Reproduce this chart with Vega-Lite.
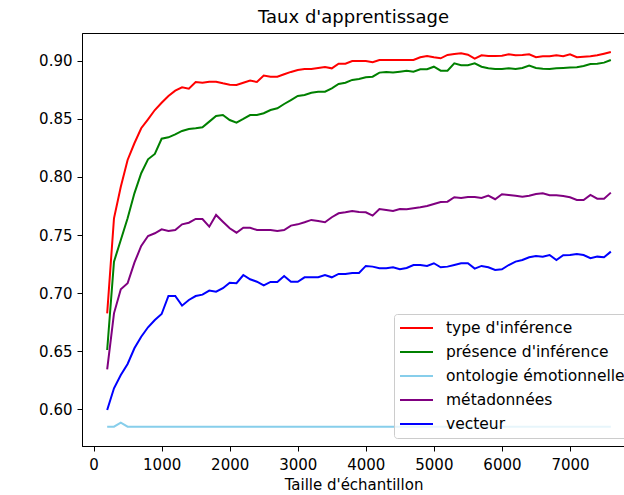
{
  "$schema": "https://vega.github.io/schema/vega-lite/v6.json",
  "autosize": {"type": "none"},
  "padding": {"left": 82, "top": 33, "right": 0, "bottom": 49},
  "width": 543,
  "height": 413,
  "background": "white",
  "title": {"text": "Taux d'apprentissage", "font": "DejaVu Sans", "fontSize": 18, "fontWeight": "normal", "color": "black", "offset": 6},
  "config": {
    "view": {"stroke": "black", "strokeWidth": 1},
    "axis": {"domainColor": "black", "tickColor": "black", "labelColor": "black", "titleColor": "black", "labelFont": "DejaVu Sans", "titleFont": "DejaVu Sans", "labelFontSize": 15, "titleFontSize": 15, "titleFontWeight": "normal", "grid": false, "tickSize": 5, "labelPadding": 5}
  },
  "data": {"values": [
{"n":200,"s":"type d'inférence","v":0.6826},{"n":300,"s":"type d'inférence","v":0.7644},{"n":400,"s":"type d'inférence","v":0.7916},{"n":500,"s":"type d'inférence","v":0.8146},{"n":600,"s":"type d'inférence","v":0.8290},{"n":700,"s":"type d'inférence","v":0.8419},{"n":800,"s":"type d'inférence","v":0.8496},{"n":900,"s":"type d'inférence","v":0.8576},{"n":1000,"s":"type d'inférence","v":0.8639},{"n":1100,"s":"type d'inférence","v":0.8697},{"n":1200,"s":"type d'inférence","v":0.8743},{"n":1300,"s":"type d'inférence","v":0.8772},{"n":1400,"s":"type d'inférence","v":0.8760},{"n":1500,"s":"type d'inférence","v":0.8817},{"n":1600,"s":"type d'inférence","v":0.8811},{"n":1700,"s":"type d'inférence","v":0.8820},{"n":1800,"s":"type d'inférence","v":0.8820},{"n":1900,"s":"type d'inférence","v":0.8806},{"n":2000,"s":"type d'inférence","v":0.8794},{"n":2100,"s":"type d'inférence","v":0.8792},{"n":2200,"s":"type d'inférence","v":0.8811},{"n":2300,"s":"type d'inférence","v":0.8829},{"n":2400,"s":"type d'inférence","v":0.8817},{"n":2500,"s":"type d'inférence","v":0.8872},{"n":2600,"s":"type d'inférence","v":0.8863},{"n":2700,"s":"type d'inférence","v":0.8863},{"n":2800,"s":"type d'inférence","v":0.8884},{"n":2900,"s":"type d'inférence","v":0.8904},{"n":3000,"s":"type d'inférence","v":0.8921},{"n":3100,"s":"type d'inférence","v":0.8929},{"n":3200,"s":"type d'inférence","v":0.8929},{"n":3300,"s":"type d'inférence","v":0.8938},{"n":3400,"s":"type d'inférence","v":0.8947},{"n":3500,"s":"type d'inférence","v":0.8935},{"n":3600,"s":"type d'inférence","v":0.8975},{"n":3700,"s":"type d'inférence","v":0.8975},{"n":3800,"s":"type d'inférence","v":0.8998},{"n":3900,"s":"type d'inférence","v":0.8998},{"n":4000,"s":"type d'inférence","v":0.8998},{"n":4100,"s":"type d'inférence","v":0.8987},{"n":4200,"s":"type d'inférence","v":0.9007},{"n":4300,"s":"type d'inférence","v":0.9007},{"n":4400,"s":"type d'inférence","v":0.9007},{"n":4500,"s":"type d'inférence","v":0.9007},{"n":4600,"s":"type d'inférence","v":0.9007},{"n":4700,"s":"type d'inférence","v":0.9007},{"n":4800,"s":"type d'inférence","v":0.9030},{"n":4900,"s":"type d'inférence","v":0.9041},{"n":5000,"s":"type d'inférence","v":0.9030},{"n":5100,"s":"type d'inférence","v":0.9021},{"n":5200,"s":"type d'inférence","v":0.9050},{"n":5300,"s":"type d'inférence","v":0.9058},{"n":5400,"s":"type d'inférence","v":0.9064},{"n":5500,"s":"type d'inférence","v":0.9052},{"n":5600,"s":"type d'inférence","v":0.9018},{"n":5700,"s":"type d'inférence","v":0.9047},{"n":5800,"s":"type d'inférence","v":0.9041},{"n":5900,"s":"type d'inférence","v":0.9041},{"n":6000,"s":"type d'inférence","v":0.9044},{"n":6100,"s":"type d'inférence","v":0.9056},{"n":6200,"s":"type d'inférence","v":0.9047},{"n":6300,"s":"type d'inférence","v":0.9050},{"n":6400,"s":"type d'inférence","v":0.9056},{"n":6500,"s":"type d'inférence","v":0.9030},{"n":6600,"s":"type d'inférence","v":0.9039},{"n":6700,"s":"type d'inférence","v":0.9039},{"n":6800,"s":"type d'inférence","v":0.9047},{"n":6900,"s":"type d'inférence","v":0.9039},{"n":7000,"s":"type d'inférence","v":0.9056},{"n":7100,"s":"type d'inférence","v":0.9030},{"n":7200,"s":"type d'inférence","v":0.9035},{"n":7300,"s":"type d'inférence","v":0.9039},{"n":7400,"s":"type d'inférence","v":0.9047},{"n":7500,"s":"type d'inférence","v":0.9061},{"n":7600,"s":"type d'inférence","v":0.9076},
{"n":200,"s":"présence d'inférence","v":0.6510},{"n":300,"s":"présence d'inférence","v":0.7271},{"n":400,"s":"présence d'inférence","v":0.7457},{"n":500,"s":"présence d'inférence","v":0.7644},{"n":600,"s":"présence d'inférence","v":0.7859},{"n":700,"s":"présence d'inférence","v":0.8032},{"n":800,"s":"présence d'inférence","v":0.8152},{"n":900,"s":"présence d'inférence","v":0.8198},{"n":1000,"s":"présence d'inférence","v":0.8329},{"n":1100,"s":"présence d'inférence","v":0.8341},{"n":1200,"s":"présence d'inférence","v":0.8367},{"n":1300,"s":"présence d'inférence","v":0.8396},{"n":1400,"s":"présence d'inférence","v":0.8413},{"n":1500,"s":"présence d'inférence","v":0.8419},{"n":1600,"s":"présence d'inférence","v":0.8427},{"n":1700,"s":"présence d'inférence","v":0.8476},{"n":1800,"s":"présence d'inférence","v":0.8525},{"n":1900,"s":"présence d'inférence","v":0.8533},{"n":2000,"s":"présence d'inférence","v":0.8490},{"n":2100,"s":"présence d'inférence","v":0.8467},{"n":2200,"s":"présence d'inférence","v":0.8499},{"n":2300,"s":"présence d'inférence","v":0.8533},{"n":2400,"s":"présence d'inférence","v":0.8533},{"n":2500,"s":"présence d'inférence","v":0.8548},{"n":2600,"s":"présence d'inférence","v":0.8576},{"n":2700,"s":"présence d'inférence","v":0.8591},{"n":2800,"s":"présence d'inférence","v":0.8628},{"n":2900,"s":"présence d'inférence","v":0.8662},{"n":3000,"s":"présence d'inférence","v":0.8697},{"n":3100,"s":"présence d'inférence","v":0.8705},{"n":3200,"s":"présence d'inférence","v":0.8725},{"n":3300,"s":"présence d'inférence","v":0.8734},{"n":3400,"s":"présence d'inférence","v":0.8734},{"n":3500,"s":"présence d'inférence","v":0.8763},{"n":3600,"s":"présence d'inférence","v":0.8800},{"n":3700,"s":"présence d'inférence","v":0.8811},{"n":3800,"s":"présence d'inférence","v":0.8835},{"n":3900,"s":"présence d'inférence","v":0.8843},{"n":4000,"s":"présence d'inférence","v":0.8858},{"n":4100,"s":"présence d'inférence","v":0.8863},{"n":4200,"s":"présence d'inférence","v":0.8898},{"n":4300,"s":"présence d'inférence","v":0.8904},{"n":4400,"s":"présence d'inférence","v":0.8898},{"n":4500,"s":"présence d'inférence","v":0.8906},{"n":4600,"s":"présence d'inférence","v":0.8915},{"n":4700,"s":"présence d'inférence","v":0.8906},{"n":4800,"s":"présence d'inférence","v":0.8927},{"n":4900,"s":"présence d'inférence","v":0.8927},{"n":5000,"s":"présence d'inférence","v":0.8949},{"n":5100,"s":"présence d'inférence","v":0.8915},{"n":5200,"s":"présence d'inférence","v":0.8915},{"n":5300,"s":"présence d'inférence","v":0.8978},{"n":5400,"s":"présence d'inférence","v":0.8961},{"n":5500,"s":"présence d'inférence","v":0.8961},{"n":5600,"s":"présence d'inférence","v":0.8978},{"n":5700,"s":"présence d'inférence","v":0.8949},{"n":5800,"s":"présence d'inférence","v":0.8935},{"n":5900,"s":"présence d'inférence","v":0.8929},{"n":6000,"s":"présence d'inférence","v":0.8929},{"n":6100,"s":"présence d'inférence","v":0.8935},{"n":6200,"s":"présence d'inférence","v":0.8929},{"n":6300,"s":"présence d'inférence","v":0.8938},{"n":6400,"s":"présence d'inférence","v":0.8958},{"n":6500,"s":"présence d'inférence","v":0.8938},{"n":6600,"s":"présence d'inférence","v":0.8932},{"n":6700,"s":"présence d'inférence","v":0.8929},{"n":6800,"s":"présence d'inférence","v":0.8935},{"n":6900,"s":"présence d'inférence","v":0.8938},{"n":7000,"s":"présence d'inférence","v":0.8941},{"n":7100,"s":"présence d'inférence","v":0.8944},{"n":7200,"s":"présence d'inférence","v":0.8955},{"n":7300,"s":"présence d'inférence","v":0.8972},{"n":7400,"s":"présence d'inférence","v":0.8975},{"n":7500,"s":"présence d'inférence","v":0.8984},{"n":7600,"s":"présence d'inférence","v":0.9007},
{"n":200,"s":"ontologie émotionnelle","v":0.585},{"n":300,"s":"ontologie émotionnelle","v":0.585},{"n":400,"s":"ontologie émotionnelle","v":0.5885},{"n":500,"s":"ontologie émotionnelle","v":0.585},{"n":600,"s":"ontologie émotionnelle","v":0.585},{"n":700,"s":"ontologie émotionnelle","v":0.585},{"n":800,"s":"ontologie émotionnelle","v":0.585},{"n":900,"s":"ontologie émotionnelle","v":0.585},{"n":1000,"s":"ontologie émotionnelle","v":0.585},{"n":1100,"s":"ontologie émotionnelle","v":0.585},{"n":1200,"s":"ontologie émotionnelle","v":0.585},{"n":1300,"s":"ontologie émotionnelle","v":0.585},{"n":1400,"s":"ontologie émotionnelle","v":0.585},{"n":1500,"s":"ontologie émotionnelle","v":0.585},{"n":1600,"s":"ontologie émotionnelle","v":0.585},{"n":1700,"s":"ontologie émotionnelle","v":0.585},{"n":1800,"s":"ontologie émotionnelle","v":0.585},{"n":1900,"s":"ontologie émotionnelle","v":0.585},{"n":2000,"s":"ontologie émotionnelle","v":0.585},{"n":2100,"s":"ontologie émotionnelle","v":0.585},{"n":2200,"s":"ontologie émotionnelle","v":0.585},{"n":2300,"s":"ontologie émotionnelle","v":0.585},{"n":2400,"s":"ontologie émotionnelle","v":0.585},{"n":2500,"s":"ontologie émotionnelle","v":0.585},{"n":2600,"s":"ontologie émotionnelle","v":0.585},{"n":2700,"s":"ontologie émotionnelle","v":0.585},{"n":2800,"s":"ontologie émotionnelle","v":0.585},{"n":2900,"s":"ontologie émotionnelle","v":0.585},{"n":3000,"s":"ontologie émotionnelle","v":0.585},{"n":3100,"s":"ontologie émotionnelle","v":0.585},{"n":3200,"s":"ontologie émotionnelle","v":0.585},{"n":3300,"s":"ontologie émotionnelle","v":0.585},{"n":3400,"s":"ontologie émotionnelle","v":0.585},{"n":3500,"s":"ontologie émotionnelle","v":0.585},{"n":3600,"s":"ontologie émotionnelle","v":0.585},{"n":3700,"s":"ontologie émotionnelle","v":0.585},{"n":3800,"s":"ontologie émotionnelle","v":0.585},{"n":3900,"s":"ontologie émotionnelle","v":0.585},{"n":4000,"s":"ontologie émotionnelle","v":0.585},{"n":4100,"s":"ontologie émotionnelle","v":0.585},{"n":4200,"s":"ontologie émotionnelle","v":0.585},{"n":4300,"s":"ontologie émotionnelle","v":0.585},{"n":4400,"s":"ontologie émotionnelle","v":0.585},{"n":4500,"s":"ontologie émotionnelle","v":0.585},{"n":4600,"s":"ontologie émotionnelle","v":0.585},{"n":4700,"s":"ontologie émotionnelle","v":0.585},{"n":4800,"s":"ontologie émotionnelle","v":0.585},{"n":4900,"s":"ontologie émotionnelle","v":0.585},{"n":5000,"s":"ontologie émotionnelle","v":0.585},{"n":5100,"s":"ontologie émotionnelle","v":0.585},{"n":5200,"s":"ontologie émotionnelle","v":0.585},{"n":5300,"s":"ontologie émotionnelle","v":0.585},{"n":5400,"s":"ontologie émotionnelle","v":0.585},{"n":5500,"s":"ontologie émotionnelle","v":0.585},{"n":5600,"s":"ontologie émotionnelle","v":0.585},{"n":5700,"s":"ontologie émotionnelle","v":0.585},{"n":5800,"s":"ontologie émotionnelle","v":0.585},{"n":5900,"s":"ontologie émotionnelle","v":0.585},{"n":6000,"s":"ontologie émotionnelle","v":0.585},{"n":6100,"s":"ontologie émotionnelle","v":0.585},{"n":6200,"s":"ontologie émotionnelle","v":0.585},{"n":6300,"s":"ontologie émotionnelle","v":0.585},{"n":6400,"s":"ontologie émotionnelle","v":0.585},{"n":6500,"s":"ontologie émotionnelle","v":0.585},{"n":6600,"s":"ontologie émotionnelle","v":0.585},{"n":6700,"s":"ontologie émotionnelle","v":0.585},{"n":6800,"s":"ontologie émotionnelle","v":0.585},{"n":6900,"s":"ontologie émotionnelle","v":0.585},{"n":7000,"s":"ontologie émotionnelle","v":0.585},{"n":7100,"s":"ontologie émotionnelle","v":0.585},{"n":7200,"s":"ontologie émotionnelle","v":0.585},{"n":7300,"s":"ontologie émotionnelle","v":0.585},{"n":7400,"s":"ontologie émotionnelle","v":0.585},{"n":7500,"s":"ontologie émotionnelle","v":0.585},{"n":7600,"s":"ontologie émotionnelle","v":0.585},
{"n":200,"s":"métadonnées","v":0.6344},{"n":300,"s":"métadonnées","v":0.6826},{"n":400,"s":"métadonnées","v":0.7033},{"n":500,"s":"métadonnées","v":0.7085},{"n":600,"s":"métadonnées","v":0.7262},{"n":700,"s":"métadonnées","v":0.7406},{"n":800,"s":"métadonnées","v":0.7492},{"n":900,"s":"métadonnées","v":0.7515},{"n":1000,"s":"métadonnées","v":0.7549},{"n":1100,"s":"métadonnées","v":0.7535},{"n":1200,"s":"métadonnées","v":0.7543},{"n":1300,"s":"métadonnées","v":0.7592},{"n":1400,"s":"métadonnées","v":0.7606},{"n":1500,"s":"métadonnées","v":0.7638},{"n":1600,"s":"métadonnées","v":0.7638},{"n":1700,"s":"métadonnées","v":0.7572},{"n":1800,"s":"métadonnées","v":0.7673},{"n":1900,"s":"métadonnées","v":0.7615},{"n":2000,"s":"métadonnées","v":0.7558},{"n":2100,"s":"métadonnées","v":0.7520},{"n":2200,"s":"métadonnées","v":0.7563},{"n":2300,"s":"métadonnées","v":0.7563},{"n":2400,"s":"métadonnées","v":0.7543},{"n":2500,"s":"métadonnées","v":0.7543},{"n":2600,"s":"métadonnées","v":0.7543},{"n":2700,"s":"métadonnées","v":0.7535},{"n":2800,"s":"métadonnées","v":0.7543},{"n":2900,"s":"métadonnées","v":0.7581},{"n":3000,"s":"métadonnées","v":0.7592},{"n":3100,"s":"métadonnées","v":0.7610},{"n":3200,"s":"métadonnées","v":0.7630},{"n":3300,"s":"métadonnées","v":0.7621},{"n":3400,"s":"métadonnées","v":0.7610},{"n":3500,"s":"métadonnées","v":0.7653},{"n":3600,"s":"métadonnées","v":0.7687},{"n":3700,"s":"métadonnées","v":0.7696},{"n":3800,"s":"métadonnées","v":0.7707},{"n":3900,"s":"métadonnées","v":0.7698},{"n":4000,"s":"métadonnées","v":0.7696},{"n":4100,"s":"métadonnées","v":0.7667},{"n":4200,"s":"métadonnées","v":0.7724},{"n":4300,"s":"métadonnées","v":0.7716},{"n":4400,"s":"métadonnées","v":0.7707},{"n":4500,"s":"métadonnées","v":0.7724},{"n":4600,"s":"métadonnées","v":0.7721},{"n":4700,"s":"métadonnées","v":0.7730},{"n":4800,"s":"métadonnées","v":0.7739},{"n":4900,"s":"métadonnées","v":0.7750},{"n":5000,"s":"métadonnées","v":0.7767},{"n":5100,"s":"métadonnées","v":0.7784},{"n":5200,"s":"métadonnées","v":0.7787},{"n":5300,"s":"métadonnées","v":0.7825},{"n":5400,"s":"métadonnées","v":0.7819},{"n":5500,"s":"métadonnées","v":0.7828},{"n":5600,"s":"métadonnées","v":0.7828},{"n":5700,"s":"métadonnées","v":0.7819},{"n":5800,"s":"métadonnées","v":0.7839},{"n":5900,"s":"métadonnées","v":0.7808},{"n":6000,"s":"métadonnées","v":0.7851},{"n":6100,"s":"métadonnées","v":0.7845},{"n":6200,"s":"métadonnées","v":0.7839},{"n":6300,"s":"métadonnées","v":0.7830},{"n":6400,"s":"métadonnées","v":0.7839},{"n":6500,"s":"métadonnées","v":0.7853},{"n":6600,"s":"métadonnées","v":0.7859},{"n":6700,"s":"métadonnées","v":0.7842},{"n":6800,"s":"métadonnées","v":0.7842},{"n":6900,"s":"métadonnées","v":0.7836},{"n":7000,"s":"métadonnées","v":0.7825},{"n":7100,"s":"métadonnées","v":0.7802},{"n":7200,"s":"métadonnées","v":0.7802},{"n":7300,"s":"métadonnées","v":0.7845},{"n":7400,"s":"métadonnées","v":0.7813},{"n":7500,"s":"métadonnées","v":0.7813},{"n":7600,"s":"métadonnées","v":0.7865},
{"n":200,"s":"vecteur","v":0.5994},{"n":300,"s":"vecteur","v":0.6181},{"n":400,"s":"vecteur","v":0.6295},{"n":500,"s":"vecteur","v":0.6390},{"n":600,"s":"vecteur","v":0.6525},{"n":700,"s":"vecteur","v":0.6625},{"n":800,"s":"vecteur","v":0.6706},{"n":900,"s":"vecteur","v":0.6769},{"n":1000,"s":"vecteur","v":0.6820},{"n":1100,"s":"vecteur","v":0.6975},{"n":1200,"s":"vecteur","v":0.6975},{"n":1300,"s":"vecteur","v":0.6892},{"n":1400,"s":"vecteur","v":0.6941},{"n":1500,"s":"vecteur","v":0.6975},{"n":1600,"s":"vecteur","v":0.6987},{"n":1700,"s":"vecteur","v":0.7022},{"n":1800,"s":"vecteur","v":0.7012},{"n":1900,"s":"vecteur","v":0.7042},{"n":2000,"s":"vecteur","v":0.7090},{"n":2100,"s":"vecteur","v":0.7085},{"n":2200,"s":"vecteur","v":0.7156},{"n":2300,"s":"vecteur","v":0.7119},{"n":2400,"s":"vecteur","v":0.7098},{"n":2500,"s":"vecteur","v":0.7067},{"n":2600,"s":"vecteur","v":0.7096},{"n":2700,"s":"vecteur","v":0.7096},{"n":2800,"s":"vecteur","v":0.7147},{"n":2900,"s":"vecteur","v":0.7098},{"n":3000,"s":"vecteur","v":0.7098},{"n":3100,"s":"vecteur","v":0.7136},{"n":3200,"s":"vecteur","v":0.7136},{"n":3300,"s":"vecteur","v":0.7136},{"n":3400,"s":"vecteur","v":0.7156},{"n":3500,"s":"vecteur","v":0.7136},{"n":3600,"s":"vecteur","v":0.7165},{"n":3700,"s":"vecteur","v":0.7165},{"n":3800,"s":"vecteur","v":0.7173},{"n":3900,"s":"vecteur","v":0.7173},{"n":4000,"s":"vecteur","v":0.7234},{"n":4100,"s":"vecteur","v":0.7228},{"n":4200,"s":"vecteur","v":0.7214},{"n":4300,"s":"vecteur","v":0.7214},{"n":4400,"s":"vecteur","v":0.7222},{"n":4500,"s":"vecteur","v":0.7205},{"n":4600,"s":"vecteur","v":0.7216},{"n":4700,"s":"vecteur","v":0.7242},{"n":4800,"s":"vecteur","v":0.7242},{"n":4900,"s":"vecteur","v":0.7234},{"n":5000,"s":"vecteur","v":0.7257},{"n":5100,"s":"vecteur","v":0.7222},{"n":5200,"s":"vecteur","v":0.7228},{"n":5300,"s":"vecteur","v":0.7242},{"n":5400,"s":"vecteur","v":0.7257},{"n":5500,"s":"vecteur","v":0.7257},{"n":5600,"s":"vecteur","v":0.7211},{"n":5700,"s":"vecteur","v":0.7234},{"n":5800,"s":"vecteur","v":0.7222},{"n":5900,"s":"vecteur","v":0.7199},{"n":6000,"s":"vecteur","v":0.7205},{"n":6100,"s":"vecteur","v":0.7242},{"n":6200,"s":"vecteur","v":0.7271},{"n":6300,"s":"vecteur","v":0.7285},{"n":6400,"s":"vecteur","v":0.7308},{"n":6500,"s":"vecteur","v":0.7320},{"n":6600,"s":"vecteur","v":0.7314},{"n":6700,"s":"vecteur","v":0.7328},{"n":6800,"s":"vecteur","v":0.7285},{"n":6900,"s":"vecteur","v":0.7326},{"n":7000,"s":"vecteur","v":0.7328},{"n":7100,"s":"vecteur","v":0.7337},{"n":7200,"s":"vecteur","v":0.7328},{"n":7300,"s":"vecteur","v":0.7300},{"n":7400,"s":"vecteur","v":0.7314},{"n":7500,"s":"vecteur","v":0.7308},{"n":7600,"s":"vecteur","v":0.7357}
  ]},
  "mark": {"type": "line", "strokeWidth": 2, "clip": true},
  "encoding": {
    "x": {"field": "n", "type": "quantitative", "title": "Taille d'échantillon",
          "scale": {"domain": [-170, 7808], "nice": false, "zero": false},
          "axis": {"values": [0, 1000, 2000, 3000, 4000, 5000, 6000, 7000], "format": "d", "labelPadding": 6, "titlePadding": 5}},
    "y": {"field": "v", "type": "quantitative", "title": null,
          "scale": {"domain": [0.5684, 0.9239], "nice": false, "zero": false},
          "axis": {"values": [0.6, 0.65, 0.7, 0.75, 0.8, 0.85, 0.9], "format": ".2f"}},
    "color": {"field": "s", "type": "nominal",
      "scale": {"domain": ["type d'inférence", "présence d'inférence", "ontologie émotionnelle", "métadonnées", "vecteur"],
                "range": ["#ff0000", "#008000", "#87ceeb", "#800080", "#0000ff"]},
      "legend": {"title": null, "orient": "none", "legendX": 312, "legendY": 281,
                 "symbolType": "M-1,0H3.125", "symbolStrokeWidth": 2, "symbolSize": 256, "rowPadding": 6,
                 "labelFont": "DejaVu Sans", "labelFontSize": 15.5, "labelColor": "black", "labelLimit": 300, "labelOffset": 29,
                 "fillColor": "rgba(255,255,255,0.8)", "strokeColor": "#cccccc", "cornerRadius": 3, "padding": 5}}
  }
}
